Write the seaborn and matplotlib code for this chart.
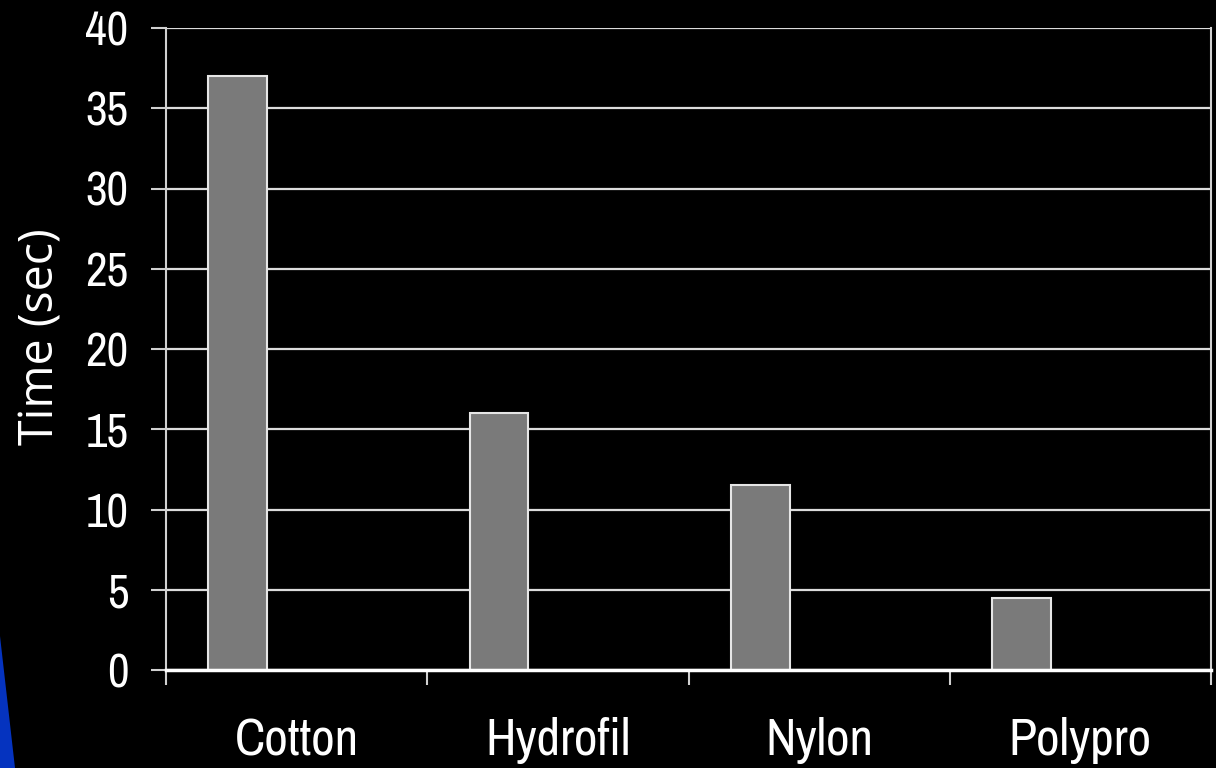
import numpy as np
import pandas as pd
import matplotlib.pyplot as plt
import seaborn as sns
from matplotlib import font_manager
from matplotlib.patches import Polygon

# Data
fabrics = ['Cotton', 'Hydrofil', 'Nylon', 'Polypro']
times = [37, 16, 11.5, 4.5]
# the original chart reserved room for three series, only the first one has values
series_order = ['Series 1', 'Series 2', 'Series 3']
y_ticks = [0, 5, 10, 15, 20, 25, 30, 35, 40]

df = pd.DataFrame({'Fabric': fabrics, 'Series': 'Series 1', 'Time': times})

# pick a narrow sans font like the one in the original slide
installed = {f.name for f in font_manager.fontManager.ttflist}
narrow = [n for n in ['Liberation Sans Narrow', 'Arial Narrow', 'Archivo Narrow',
                      'Roboto Condensed', 'PT Sans Narrow'] if n in installed]
narrow_font = narrow[0] if narrow else 'Liberation Sans'

sns.set_theme(style='dark')
plt.rcParams['font.family'] = [narrow_font, 'DejaVu Sans']

fig = plt.figure(figsize=(12.16, 7.68), dpi=100, facecolor='black')
ax = fig.add_axes([166 / 1216, 1 - 670 / 768, 1045 / 1216, 642 / 768])
ax.set_facecolor('black')

sns.barplot(data=df, x='Fabric', y='Time', hue='Series', hue_order=series_order,
            palette={s: '#7a7a7a' for s in series_order}, width=0.675, dodge=True,
            edgecolor='#e6e6e6', linewidth=1.5, saturation=1, legend=False, ax=ax)

ax.set_xlim(-0.5, len(fabrics) - 0.5)
ax.set_ylim(0, 40)
ax.set_yticks(y_ticks)

# tick marks sit between the categories, labels in the middle
ax.set_xticks(np.arange(-0.5, len(fabrics)), labels=[''] * (len(fabrics) + 1))
ax.set_xticks(np.arange(len(fabrics)), labels=fabrics, minor=True)
ax.tick_params(axis='x', which='major', length=11, width=1.5, color='#d0d0d0', direction='out', bottom=True)
ax.tick_params(axis='x', which='minor', length=0, pad=34, labelsize=37, labelcolor='white')
ax.tick_params(axis='y', length=11, width=1.5, color='#d0d0d0', direction='out', left=True,
               pad=16, labelsize=34, labelcolor='white')

ax.yaxis.grid(True, color='#dcdcdc', linewidth=1.6)
ax.xaxis.grid(False)
ax.set_axisbelow(True)

for side in ['left', 'right']:
    ax.spines[side].set_visible(True)
    ax.spines[side].set_color('#d0d0d0')
    ax.spines[side].set_linewidth(1.5)
ax.spines['bottom'].set_visible(True)
ax.spines['bottom'].set_color('white')
ax.spines['bottom'].set_linewidth(2.5)
ax.spines['top'].set_visible(False)

ax.set_xlabel('')
ax.set_ylabel('Time (sec)', fontsize=33.5, color='white', family=['Open Sans', 'DejaVu Sans'], va='center')
ax.yaxis.set_label_coords(-0.12, 0.52)

# blue slide decoration in the lower left corner
fig.add_artist(Polygon([(0, 1 - 636 / 768), (15 / 1216, 0), (0, 0)], closed=True,
                       transform=fig.transFigure, color='#0533bf', lw=0))

fig.savefig('out.png', dpi=100, facecolor='black')
